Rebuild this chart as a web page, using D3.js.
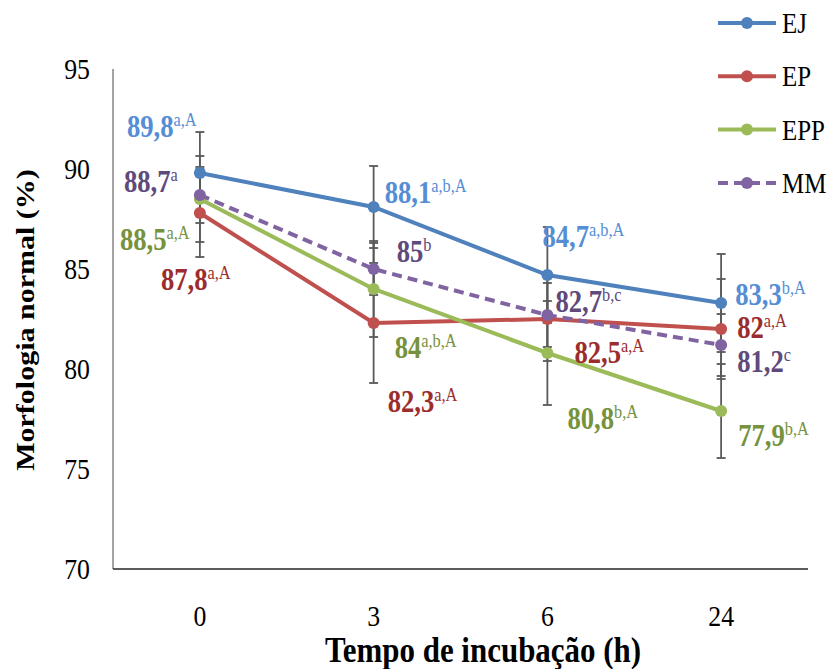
<!DOCTYPE html>
<html>
<head>
<meta charset="utf-8">
<script src="https://cdn.jsdelivr.net/npm/d3@7"></script>
<style>
    body { margin: 0; background: #fff; }
    #chart-area { width: 829px; height: 669px; }
    text { font-family: "Liberation Serif", "Times New Roman", serif; }
</style>
</head>
<body>
<div id="chart-area"></div>
<script>
// Incubation times (h)
const times = ["0", "3", "6", "24"];
const yTicks = [70, 75, 80, 85, 90, 95];
const seriesNames = ["EJ", "EP", "EPP", "MM"];

// Mean normal morphology (%)
const valuesEJ = [89.8, 88.1, 84.7, 83.3];
const valuesEP = [87.8, 82.3, 82.5, 82];
const valuesEPP = [88.5, 84, 80.8, 77.9];
const valuesMM = [88.7, 85, 82.7, 81.2];

// Standard deviations (error bars)
const errorsEJ = [2.05, 2.05, 2.4, 2.45];
const errorsEP = [2.2, 3.0, 2.1, 2.5];
const errorsEPP = [2.15, 2.4, 2.6, 2.35];
const errorsMM = [1.4, 1.3, 1.6, 1.55];

// Value labels and significance letters
const labelsEJ = ["89,8", "88,1", "84,7", "83,3"];
const lettersEJ = ["a,A", "a,b,A", "a,b,A", "b,A"];
const labelsEP = ["87,8", "82,3", "82,5", "82"];
const lettersEP = ["a,A", "a,A", "a,A", "a,A"];
const labelsEPP = ["88,5", "84", "80,8", "77,9"];
const lettersEPP = ["a,A", "a,b,A", "b,A", "b,A"];
const labelsMM = ["88,7", "85", "82,7", "81,2"];
const lettersMM = ["a", "b", "b,c", "c"];

class MorphologyChart {
    constructor(parentElement) {
        this.parentElement = parentElement;
        this.series = [
            {name: "EJ", values: valuesEJ, errors: errorsEJ, labels: labelsEJ, letters: lettersEJ,
                color: "#4F81BD", textColor: "#558ED5", dash: null,
                offsets: [[-73, -36], [11, -4], [-5, -28], [14, 2]]},
            {name: "EP", values: valuesEP, errors: errorsEP, labels: labelsEP, letters: lettersEP,
                color: "#C0504D", textColor: "#9B2D2D", dash: null,
                offsets: [[-39, 77], [14, 89], [27, 44], [16, 9]]},
            {name: "EPP", values: valuesEPP, errors: errorsEPP, labels: labelsEPP, letters: lettersEPP,
                color: "#9BBB59", textColor: "#76923C", dash: null,
                offsets: [[-80, 51], [21, 69], [20, 76], [17, 35]]},
            {name: "MM", values: valuesMM, errors: errorsMM, labels: labelsMM, letters: lettersMM,
                color: "#8064A2", textColor: "#604A7B", dash: "10,6",
                offsets: [[-76, -3], [23, -7], [8, -3], [16, 27]]}
        ];
        this.squeeze = 0.86;
        this.initVis();
    }

    initVis() {
        let vis = this;

        vis.svg = d3.select("#" + vis.parentElement).append("svg")
            .attr("width", 829)
            .attr("height", 669);

        vis.x = d3.scalePoint()
            .domain(times)
            .range([113, 808])
            .padding(0.5);

        vis.y = d3.scaleLinear()
            .domain([70, 95])
            .range([569, 69]);

        // Axes (no tick marks, only labels)
        vis.svg.append("line")
            .attr("x1", 113).attr("x2", 113)
            .attr("y1", vis.y(95)).attr("y2", vis.y(70))
            .attr("stroke", "#868686")
            .attr("stroke-width", 1.5);

        vis.svg.append("line")
            .attr("x1", 113).attr("x2", 808)
            .attr("y1", vis.y(70)).attr("y2", vis.y(70))
            .attr("stroke", "#262626")
            .attr("stroke-width", 1.5);

        vis.svg.append("g").selectAll("text")
            .data(yTicks)
            .enter().append("text")
            .attr("transform", d => `translate(90, ${vis.y(d) + 3}) scale(${vis.squeeze}, 1)`)
            .attr("text-anchor", "end")
            .attr("dominant-baseline", "middle")
            .style("font-size", "30px")
            .text(d => d);

        vis.svg.append("g").selectAll("text")
            .data(times)
            .enter().append("text")
            .attr("transform", d => `translate(${vis.x(d)}, 626) scale(${vis.squeeze}, 1)`)
            .attr("text-anchor", "middle")
            .style("font-size", "30px")
            .text(d => d);

        // Axis titles
        vis.svg.append("text")
            .attr("transform", `translate(483, 662) scale(${vis.squeeze}, 1)`)
            .attr("text-anchor", "middle")
            .style("font-size", "36px")
            .style("font-weight", "bold")
            .text("Tempo de incubação (h)");

        vis.svg.append("text")
            .attr("transform", `translate(34, 320) rotate(-90) scale(1, ${vis.squeeze})`)
            .attr("text-anchor", "middle")
            .style("font-size", "30px")
            .style("font-weight", "bold")
            .text("Morfologia normal (%)");

        vis.drawSeries();
        vis.createLegend();
    }

    drawSeries() {
        let vis = this;

        // Error bars first so the lines sit on top
        let errGroup = vis.svg.append("g").attr("class", "error-bars");
        vis.series.forEach(s => {
            s.values.forEach((v, i) => {
                let cx = vis.x(times[i]);
                let top = vis.y(v + s.errors[i]);
                let bottom = vis.y(v - s.errors[i]);
                errGroup.append("line")
                    .attr("x1", cx).attr("x2", cx)
                    .attr("y1", top).attr("y2", bottom)
                    .attr("stroke", "#595959")
                    .attr("stroke-width", 1.8);
                [top, bottom].forEach(yy => {
                    errGroup.append("line")
                        .attr("x1", cx - 4.5).attr("x2", cx + 4.5)
                        .attr("y1", yy).attr("y2", yy)
                        .attr("stroke", "#595959")
                        .attr("stroke-width", 1.8);
                });
            });
        });

        let line = d3.line()
            .x((d, i) => vis.x(times[i]))
            .y(d => vis.y(d));

        vis.series.forEach(s => {
            vis.svg.append("path")
                .datum(s.values)
                .attr("d", line)
                .attr("fill", "none")
                .attr("stroke", s.color)
                .attr("stroke-width", 4)
                .attr("stroke-dasharray", s.dash);

            vis.svg.append("g").selectAll("circle")
                .data(s.values)
                .enter().append("circle")
                .attr("cx", (d, i) => vis.x(times[i]))
                .attr("cy", d => vis.y(d))
                .attr("r", 6)
                .attr("fill", s.color);
        });

        // Value labels with superscript letters
        vis.series.forEach(s => {
            s.values.forEach((v, i) => {
                let px = vis.x(times[i]) + s.offsets[i][0];
                let py = vis.y(v) + s.offsets[i][1];
                let label = vis.svg.append("text")
                    .attr("transform", `translate(${px}, ${py}) scale(${vis.squeeze}, 1)`)
                    .attr("fill", s.textColor);
                label.append("tspan")
                    .style("font-size", "31px")
                    .style("font-weight", "bold")
                    .text(s.labels[i]);
                label.append("tspan")
                    .attr("dy", -11)
                    .style("font-size", "19px")
                    .text(s.letters[i]);
            });
        });
    }

    createLegend() {
        let vis = this;

        const legend = vis.svg.append("g")
            .attr("class", "legend")
            .attr("transform", "translate(718, 23)");

        vis.series.forEach((s, index) => {
            const item = legend.append("g")
                .attr("transform", `translate(0, ${index * 53.3})`);

            item.append("line")
                .attr("x1", 0).attr("x2", 58)
                .attr("y1", 0).attr("y2", 0)
                .attr("stroke", s.color)
                .attr("stroke-width", 4)
                .attr("stroke-dasharray", s.dash);

            item.append("circle")
                .attr("cx", 29)
                .attr("cy", 0)
                .attr("r", 6)
                .attr("fill", s.color);

            item.append("text")
                .attr("transform", `translate(64, 10) scale(${vis.squeeze}, 1)`)
                .style("font-size", "29px")
                .text(s.name);
        });
    }
}

new MorphologyChart("chart-area");
</script>
</body>
</html>
